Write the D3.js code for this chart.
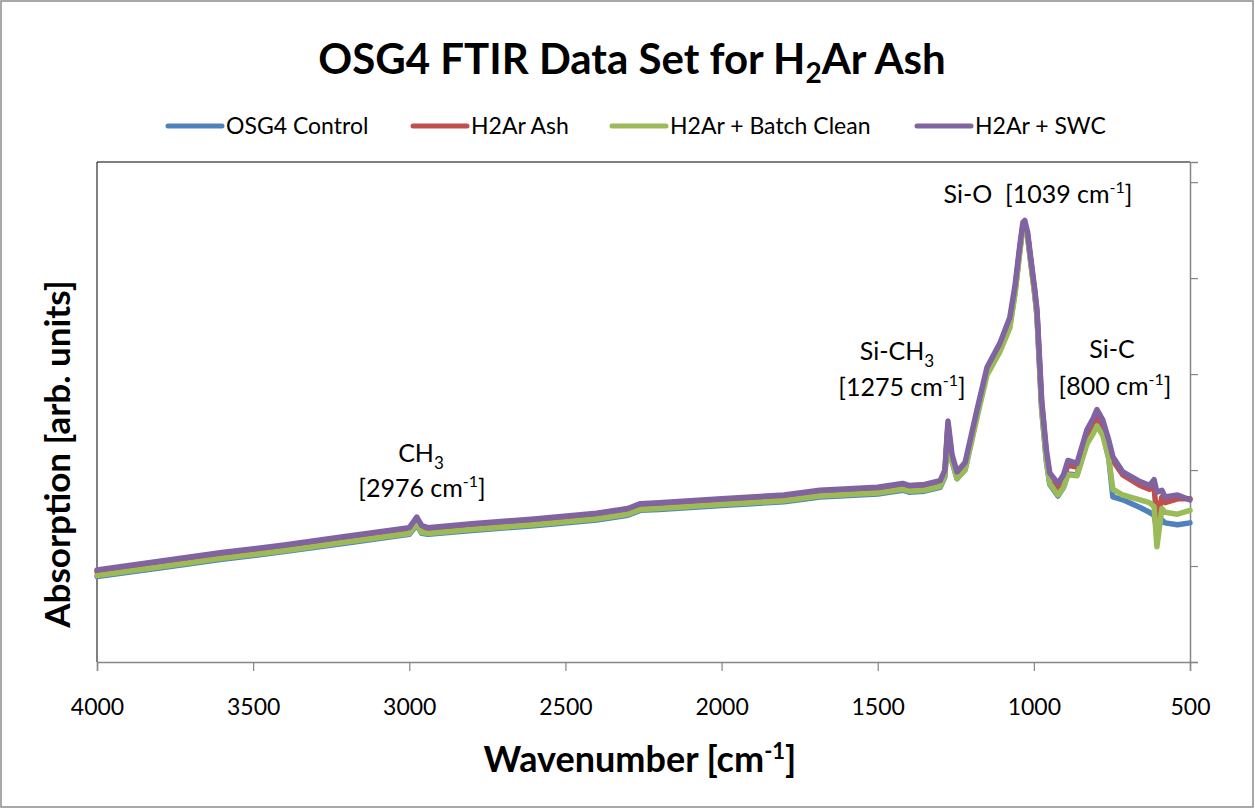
<!DOCTYPE html>
<html lang="en">
  <head>
    <meta charset="UTF-8">
    <title>OSG4 FTIR Data Set</title>
    <script src="https://cdn.jsdelivr.net/npm/d3@7"></script>
    <style>
      body { margin: 0; background: #fff; }
      text { font-family: Lato, "Noto Sans", sans-serif; fill: #000; white-space: pre; }
      .series { fill: none; stroke-width: 5.5; stroke-linejoin: round; stroke-linecap: round; }
    </style>
  </head>
  <body>
    <svg id="chart"></svg>

    <script>
      // Wavenumbers (cm-1)
      var wavenumbers = [4000,3800,3600,3400,3200,3000,2976,2960,2940,2800,2600,2400,2300,2260,2200,2000,1800,1685,1500,1420,1400,1350,1300,1285,1275,1262,1246,1220,1182,1150,1109,1077,1060,1045,1035,1029,1020,1013,997,990,975,960,949,923,905,891,862,830,810,798,779,760,747,715,660,630,615,606,590,580,540,500];

      // Absorption (arb. units)
      var osg4Control = [0.89,0.98,1.07,1.15,1.24,1.33,1.43,1.34,1.33,1.37,1.42,1.48,1.53,1.58,1.59,1.63,1.67,1.72,1.75,1.79,1.77,1.78,1.82,1.93,2.45,2.09,1.91,2.01,2.57,3.02,3.25,3.50,3.86,4.29,4.54,4.56,4.44,4.25,3.83,3.61,2.63,2.09,1.85,1.73,1.82,1.96,1.95,2.30,2.41,2.49,2.38,2.12,1.72,1.69,1.61,1.56,1.53,1.38,1.48,1.45,1.43,1.45];
      var h2arAsh = [0.94,1.03,1.11,1.19,1.28,1.37,1.48,1.39,1.37,1.41,1.46,1.52,1.57,1.62,1.63,1.67,1.71,1.76,1.79,1.83,1.81,1.82,1.86,1.97,2.47,2.12,1.95,2.04,2.60,3.04,3.29,3.55,3.89,4.31,4.55,4.57,4.45,4.26,3.85,3.64,2.70,2.17,1.93,1.82,1.91,2.05,2.03,2.37,2.48,2.57,2.47,2.27,2.10,1.95,1.84,1.80,1.82,1.48,1.72,1.66,1.70,1.70];
      var h2arBatch = [0.90,0.99,1.08,1.16,1.25,1.34,1.44,1.35,1.34,1.38,1.43,1.49,1.54,1.59,1.60,1.64,1.68,1.73,1.76,1.80,1.78,1.79,1.83,1.94,2.44,2.09,1.91,2.00,2.55,2.99,3.23,3.48,3.84,4.27,4.52,4.55,4.43,4.24,3.82,3.60,2.64,2.10,1.86,1.74,1.82,1.95,1.94,2.27,2.38,2.46,2.36,2.12,1.80,1.74,1.69,1.66,1.62,1.20,1.60,1.56,1.54,1.58];
      var h2arSwc = [0.96,1.05,1.14,1.22,1.31,1.40,1.51,1.42,1.40,1.44,1.49,1.55,1.60,1.65,1.66,1.70,1.74,1.79,1.82,1.86,1.84,1.85,1.89,2.00,2.51,2.16,1.98,2.08,2.63,3.07,3.32,3.59,3.93,4.34,4.58,4.60,4.48,4.29,3.88,3.67,2.73,2.21,1.97,1.86,1.95,2.10,2.07,2.42,2.54,2.63,2.52,2.31,2.14,1.98,1.88,1.84,1.90,1.77,1.79,1.72,1.74,1.69];

      var seriesNames = ["OSG4 Control", "H2Ar Ash", "H2Ar + Batch Clean", "H2Ar + SWC"];
      var seriesColors = ["#4F81BD", "#C0504D", "#9BBB59", "#8064A2"];
      var seriesValues = [osg4Control, h2arAsh, h2arBatch, h2arSwc];

      var xTicks = [4000, 3500, 3000, 2500, 2000, 1500, 1000, 500];
      var yTicks = [0, 1, 2, 3, 4, 5];

      var W = 1255, H = 809;
      var plot = { left: 97, right: 1190, top: 162, bottom: 662 };

      var svg = d3.select("#chart").attr("width", W).attr("height", H);

      // outer chart frame
      svg.append("rect")
        .attr("x", 1).attr("y", 1).attr("width", W - 3).attr("height", H - 3)
        .attr("fill", "#fff").attr("stroke", "#8c8c8c").attr("stroke-width", 1.5);

      var x = d3.scaleLinear().domain([4000, 500]).range([plot.left, plot.right]);
      var y = d3.scaleLinear().domain([0, 5.21]).range([plot.bottom, plot.top]);

      // plot border top + left
      svg.append("line")
        .attr("x1", plot.left).attr("x2", plot.right).attr("y1", plot.top).attr("y2", plot.top)
        .attr("stroke", "#000").attr("stroke-width", 1);
      svg.append("line")
        .attr("x1", plot.left).attr("x2", plot.left).attr("y1", plot.top).attr("y2", plot.bottom)
        .attr("stroke", "#000").attr("stroke-width", 1);

      // bottom axis
      var xAxis = svg.append("g")
        .attr("transform", "translate(0," + plot.bottom + ")")
        .call(d3.axisBottom(x).tickValues(xTicks).tickSize(9).tickFormat(d3.format("d")));
      xAxis.select(".domain").attr("stroke", "#868686").attr("stroke-width", 1.5);
      xAxis.selectAll(".tick line").attr("stroke", "#868686").attr("stroke-width", 1.2);
      xAxis.selectAll(".tick text")
        .attr("y", 37)
        .style("font-size", "23px")
        .style("font-family", "Lato, sans-serif");

      // right axis, unlabeled
      var yAxis = svg.append("g")
        .attr("transform", "translate(" + plot.right + ",0)")
        .call(d3.axisRight(y).tickValues(yTicks).tickSize(8).tickFormat(""));
      yAxis.select(".domain").attr("stroke", "#868686").attr("stroke-width", 1.5);
      yAxis.selectAll(".tick line").attr("stroke", "#868686").attr("stroke-width", 1.2);

      // series
      var line = d3.line()
        .x(function(d, i) { return x(wavenumbers[i]); })
        .y(function(d) { return y(d); });

      svg.selectAll(".series")
        .data(seriesValues)
        .enter()
        .append("path")
        .attr("class", "series")
        .attr("stroke", function(d, i) { return seriesColors[i]; })
        .attr("d", line);

      // title
      var title = svg.append("text")
        .attr("x", 632).attr("y", 74)
        .attr("text-anchor", "middle")
        .style("font-size", "42px").style("font-weight", "bold");
      title.append("tspan").text("OSG4 FTIR Data Set for H");
      title.append("tspan").attr("dy", 9).style("font-size", "28px").text("2");
      title.append("tspan").attr("dy", -9).text("Ar Ash");

      // legend
      var legendX = [168, 413, 612, 917];
      var legend = svg.selectAll(".legend")
        .data(seriesNames)
        .enter()
        .append("g")
        .attr("class", "legend")
        .attr("transform", function(d, i) { return "translate(" + legendX[i] + ",126)"; });
      legend.append("line")
        .attr("x1", 0).attr("x2", 54).attr("y1", 0).attr("y2", 0)
        .attr("stroke-width", 5).attr("stroke-linecap", "round")
        .attr("stroke", function(d, i) { return seriesColors[i]; });
      legend.append("text")
        .attr("x", 58).attr("y", 8)
        .style("font-size", "23px")
        .text(function(d) { return d; });

      // peak annotations
      function wave(g, cx, cy, label) {
        var t = g.append("text").attr("x", cx).attr("y", cy).attr("text-anchor", "middle").style("font-size", "25px");
        t.append("tspan").text(label);
        t.append("tspan").text(" cm");
        t.append("tspan").attr("dy", -10).style("font-size", "16px").text("-1");
        t.append("tspan").attr("dy", 10).text("]");
        return t;
      }
      function sub(g, cx, cy, base, s) {
        var t = g.append("text").attr("x", cx).attr("y", cy).attr("text-anchor", "middle").style("font-size", "25px");
        t.append("tspan").text(base);
        t.append("tspan").attr("dy", 7).style("font-size", "17px").text(s);
        return t;
      }

      wave(svg, 1038, 203, "Si-O  [1039");
      sub(svg, 897, 360, "Si-CH", "3");
      wave(svg, 902, 396, "[1275");
      svg.append("text").attr("x", 1112).attr("y", 358).attr("text-anchor", "middle").style("font-size", "25px").text("Si-C");
      wave(svg, 1115, 395, "[800");
      sub(svg, 421, 462, "CH", "3");
      wave(svg, 422, 497, "[2976");

      // axis titles
      var xTitle = svg.append("text")
        .attr("x", 640).attr("y", 772)
        .attr("text-anchor", "middle")
        .style("font-size", "36px").style("font-weight", "bold");
      xTitle.append("tspan").text("Wavenumber [cm");
      xTitle.append("tspan").attr("dy", -13).style("font-size", "22px").text("-1");
      xTitle.append("tspan").attr("dy", 13).text("]");

      svg.append("text")
        .attr("transform", "translate(70,454) rotate(-90)")
        .attr("text-anchor", "middle")
        .style("font-size", "35px").style("font-weight", "bold")
        .text("Absorption [arb. units]");
    </script>
  </body>
</html>
